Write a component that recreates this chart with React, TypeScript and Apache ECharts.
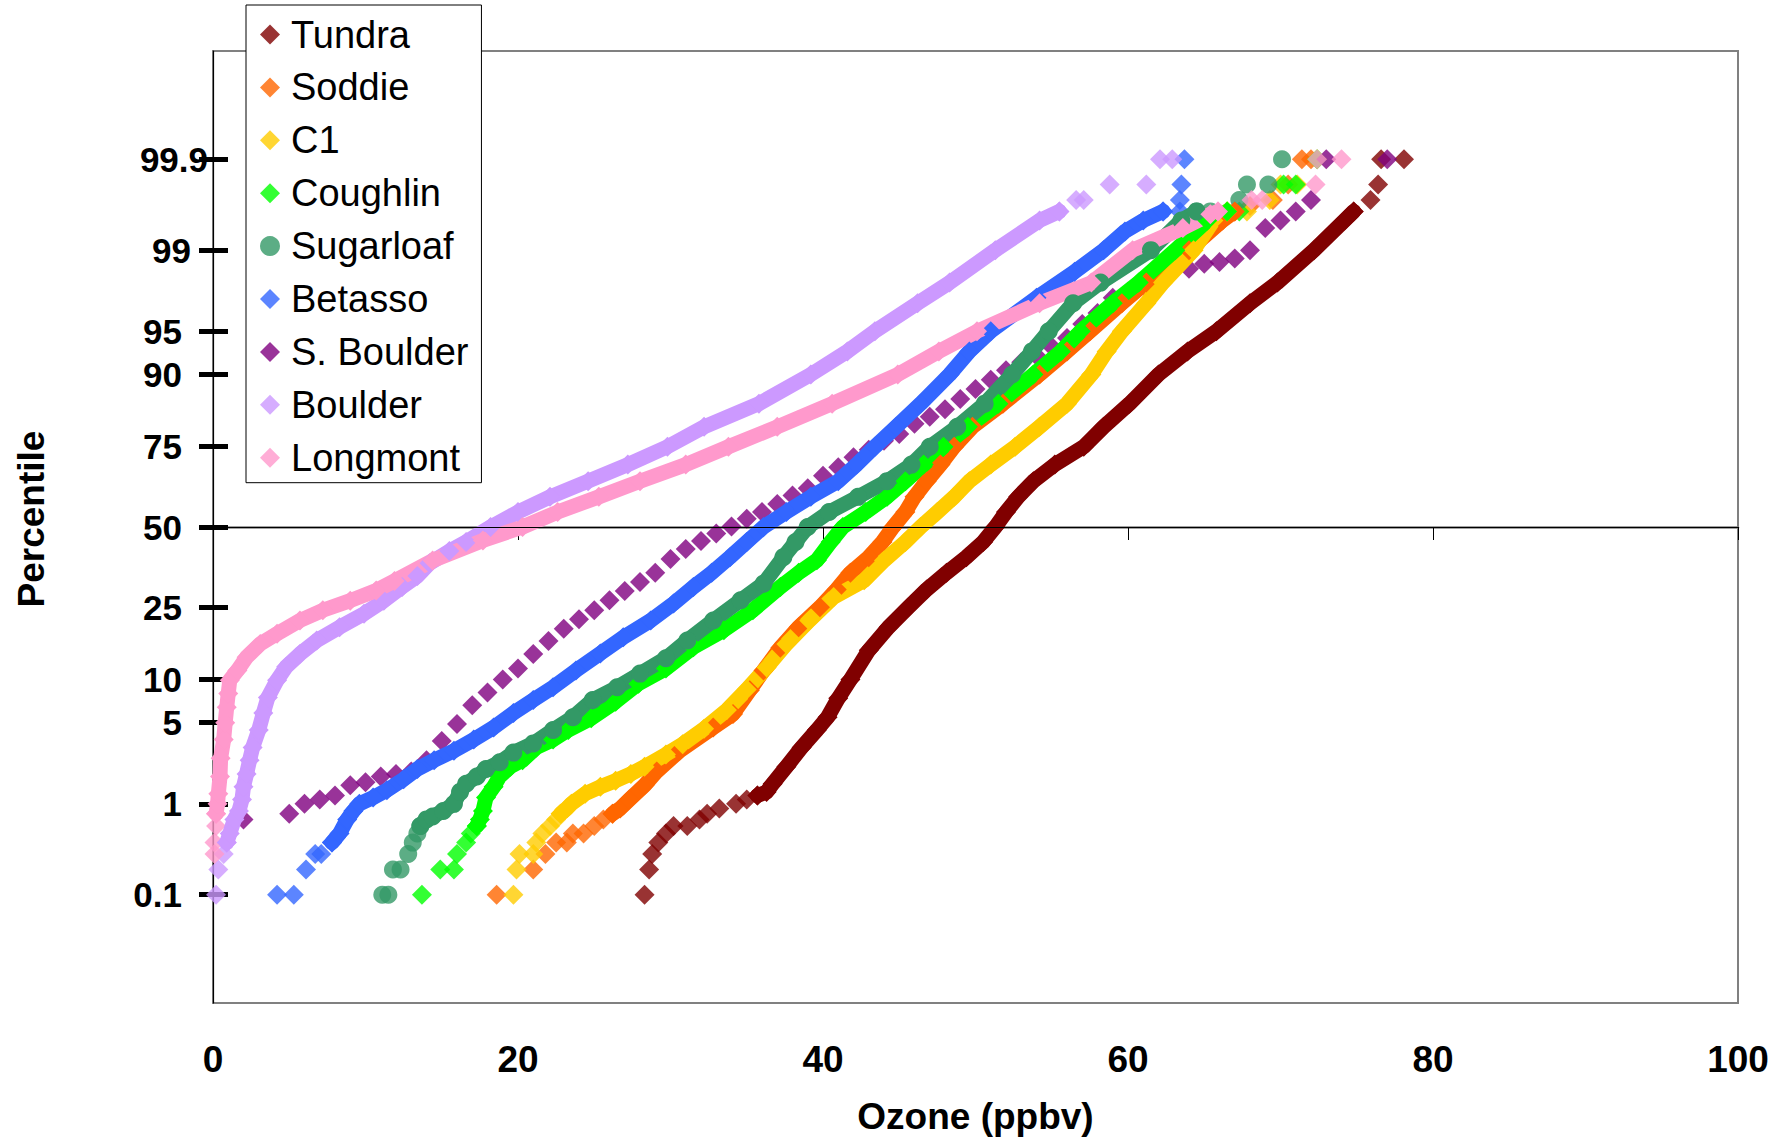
import React, { useEffect, useRef } from 'react';
import * as echarts from 'echarts';

const FONT = "'Liberation Sans', Arial, Helvetica, sans-serif";

type Pt = [number, number]; // [ozone ppbv, percentile]

// ---------- data: [ozone, percentile] ----------
const TUNDRA_TAIL: Pt[] = [[28.3,0.1],[28.6,0.2],[28.8,0.3],[29.2,0.4],[29.7,0.5],[30.2,0.6],[31.1,0.6],[31.9,0.7],[32.4,0.8],[33.2,0.9],[34.3,1.0],[35.0,1.1],[35.7,1.2],[74.8,99.6],[75.9,99.7],[76.4,99.8],[76.6,99.9],[78.1,99.9]];
const TUNDRA_BAND: Pt[] = [[35.7,1.2],[36.3,1.3],[36.7,1.55],[37.6,2.2],[38.6,3.2],[39.6,4.4],[40.3,5.5],[41.0,7.5],[41.8,10],[43.0,15],[44.3,20],[45.6,25],[46.8,30],[48.1,35],[49.4,40],[50.5,45],[51.3,50],[52.0,55],[52.8,60],[53.8,65],[55.2,70],[57.1,75],[58.4,80],[60.1,85],[62.0,90],[63.9,93],[65.8,95],[68.0,97],[69.8,98],[72.2,99],[74.2,99.5],[74.8,99.6]];

const SODDIE_TAIL: Pt[] = [[18.6,0.1],[21.0,0.2],[21.8,0.3],[22.5,0.4],[23.2,0.4],[23.6,0.5],[24.3,0.5],[25.0,0.6],[25.6,0.7],[26.2,0.8],[67.0,99.6],[68.0,99.65],[69.5,99.7],[70.5,99.8],[71.4,99.9],[72.0,99.9]];
const SODDIE_BAND: Pt[] = [[26.2,0.8],[26.7,0.9],[27.3,1.1],[28.3,1.5],[29.1,2],[30.6,3],[32.8,4.6],[34.1,5.8],[35.2,8.5],[36.1,11.4],[37.2,15.5],[38.4,20],[39.8,25],[40.9,30],[41.8,35],[43.0,40],[43.9,45],[44.6,50],[45.4,55],[46.0,60],[46.8,65],[47.7,70],[48.6,75],[49.8,80],[51.8,85],[54.2,90],[56.0,93],[57.5,95],[59.6,97],[61.2,98],[64.0,99],[66.2,99.5],[67.0,99.6]];

const C1_TAIL: Pt[] = [[19.7,0.1],[19.9,0.2],[20.1,0.3],[21.0,0.3],[21.2,0.4],[21.6,0.5],[22.1,0.6],[22.5,0.7],[22.8,0.8],[66.5,99.6],[67.8,99.6],[69.3,99.7],[70.0,99.8],[71.1,99.8],[72.4,99.9]];
const C1_BAND: Pt[] = [[22.8,0.8],[23.2,0.9],[23.5,1.0],[24.4,1.25],[25.4,1.45],[26.4,1.65],[27.4,1.9],[28.3,2.2],[29.7,2.8],[30.8,3.4],[32.2,4.5],[33.7,6.2],[35.0,8.6],[36.3,11.9],[37.6,16.3],[39.1,21.6],[40.7,27.8],[42.7,32.7],[44.0,38.9],[45.4,45],[46.4,50],[47.5,55],[48.6,60],[49.6,65],[51.0,70],[52.6,75],[54.2,80],[56.0,85],[57.6,90],[58.6,93],[59.6,95],[61.2,97],[62.3,98],[64.3,99],[65.6,99.5],[66.5,99.6]];

const COUGHLIN_TAIL: Pt[] = [[13.7,0.1],[14.9,0.2],[15.8,0.2],[16.0,0.3],[16.6,0.4],[16.9,0.5],[17.3,0.6],[66.5,99.6],[67.3,99.6],[70.2,99.8],[71.0,99.8],[72.4,99.9]];
const COUGHLIN_BAND: Pt[] = [[17.3,0.6],[17.5,0.7],[17.7,0.85],[17.9,1.15],[18.4,1.45],[18.8,1.8],[19.5,2.2],[20.3,2.5],[21.2,3.2],[22.3,3.7],[23.3,4.4],[24.8,5.4],[26.4,7.1],[27.9,9.4],[29.7,11.7],[31.5,15.6],[33.5,19.3],[35.4,24.2],[37.2,30.7],[38.4,35],[39.6,39],[40.5,45],[41.3,50],[42.8,55],[44.2,60],[45.4,65],[46.6,70],[47.9,75],[49.5,80],[51.5,85],[53.8,90],[55.6,93],[56.9,95],[59.0,97],[60.7,98],[63.1,99],[65.2,99.5],[66.5,99.6]];

const SUGARLOAF_TAIL: Pt[] = [[11.1,0.1],[11.5,0.1],[11.8,0.2],[12.3,0.2],[12.8,0.3],[13.1,0.4],[13.4,0.5],[13.6,0.6],[64.5,99.6],[65.4,99.6],[67.3,99.7],[67.8,99.8],[69.2,99.8],[70.1,99.9]];
const SUGARLOAF_BAND: Pt[] = [[13.6,0.6],[14.0,0.7],[14.4,0.75],[15.1,0.85],[15.8,1.0],[16.2,1.3],[16.6,1.55],[17.3,1.8],[17.9,2.1],[18.8,2.4],[19.7,2.9],[21.0,3.45],[22.3,4.4],[23.6,5.5],[24.9,7.3],[26.5,8.9],[28.0,10.9],[29.7,13.5],[31.1,17],[32.8,21.6],[34.6,26.9],[36.1,31.7],[37.4,40],[38.2,45],[39.0,50],[40.4,55],[42.3,60],[44.2,65],[45.8,70],[47.0,75],[48.8,80],[50.6,85],[52.4,90],[53.7,93],[54.8,95],[56.4,97],[58.2,98],[61.5,99],[63.5,99.5],[64.5,99.6]];

const BETASSO_TAIL: Pt[] = [[4.2,0.1],[5.3,0.1],[6.1,0.2],[6.7,0.3],[7.1,0.3],[7.8,0.4],[62.3,99.6],[63.4,99.6],[63.4,99.7],[63.5,99.8],[63.7,99.9]];
const BETASSO_BAND: Pt[] = [[7.8,0.4],[8.3,0.5],[8.8,0.7],[9.2,0.85],[9.6,1.0],[10.5,1.15],[11.4,1.35],[12.5,1.7],[13.4,2.1],[14.5,2.5],[15.8,3.0],[17.1,3.7],[18.4,4.6],[19.7,5.9],[21.0,7.3],[22.3,8.9],[23.8,11.4],[25.4,14.4],[26.9,17.7],[28.7,21.6],[30.2,26],[31.5,30.7],[32.7,35],[33.9,40],[35.0,45],[36.1,50],[37.6,55],[39.2,60],[41.0,65],[42.2,70],[43.4,75],[44.8,80],[46.4,85],[48.3,90],[49.6,93],[51.0,95],[54.0,97.3],[56.5,98.4],[58.4,99],[59.8,99.35],[61.0,99.5],[62.3,99.6]];

const S_BOULDER: Pt[] = [[2,0.7],[5,0.8],[6,1.0],[7,1.1],[8,1.2],[9,1.5],[10,1.6],[11,1.8],[12,1.9],[13,2.0],[14,2.5],[15,3.6],[16,4.9],[17,6.7],[18,8.2],[19,10.0],[20,11.7],[21,14.3],[22,16.9],[23,19.6],[24,21.9],[25,24.2],[26,26.9],[27,29.5],[28,32.2],[29,35.0],[30,39.4],[31,42.7],[32,45.3],[33,47.8],[34,50.2],[35,52.8],[36,55.0],[37,57.7],[38,60.4],[39,62.8],[40,66.7],[41,69.2],[42,72.1],[43,74.2],[44,76.6],[45,78.3],[46,80.7],[47,82.3],[48,83.9],[49,85.9],[50,87.7],[51,89.2],[52,90.6],[53,91.7],[54,92.5],[55,93.5],[56,94.4],[57,95.6],[58,96.4],[59,97.3],[60,97.6],[61,97.9],[62,98.05],[64,98.5],[65,98.65],[66,98.7],[67,98.8],[68,99.0],[69,99.4],[70,99.5],[71,99.6],[72,99.7],[73,99.9],[77,99.9]];

const BOULDER_TAIL: Pt[] = [[0.2,0.1],[0.35,0.2],[0.7,0.3],[0.9,0.4],[55.5,99.6],[56.6,99.7],[57.1,99.7],[58.8,99.8],[61.2,99.8],[62.1,99.9],[62.9,99.9]];
const BOULDER_BAND: Pt[] = [[0.9,0.4],[1.1,0.5],[1.4,0.7],[1.7,0.85],[1.9,1.1],[2.0,1.45],[2.2,1.9],[2.4,2.5],[2.6,3.2],[3.0,4.4],[3.3,5.9],[3.6,7.6],[4.2,9.9],[4.8,12],[5.7,14.3],[6.8,17],[8.3,20],[9.9,23.3],[11.2,26.8],[12.4,30.7],[13.4,34],[14.2,38],[15.5,42],[16.6,45],[18.2,50],[20.0,55],[22.1,60],[24.6,65],[27.2,70],[29.8,75],[32.2,80],[35.8,85],[39.2,90],[41.6,93],[43.4,95],[46.2,97],[48.3,98],[51.3,99],[54.2,99.5],[55.5,99.6]];

const LONGMONT_TAIL: Pt[] = [[0.1,0.3],[0.1,0.4],[0.2,0.6],[0.2,0.8],[65.9,99.6],[68.1,99.7],[68.8,99.7],[72.3,99.8],[72.4,99.9],[74.0,99.9]];
const LONGMONT_BAND: Pt[] = [[0.2,0.8],[0.3,1.0],[0.35,1.25],[0.46,1.8],[0.5,2.6],[0.7,3.7],[0.8,5.0],[0.9,6.5],[1.0,8.1],[1.1,9.9],[1.6,11.4],[2.2,13.7],[3.1,16.3],[4.2,18.5],[5.7,21.6],[7.2,24.2],[9.0,26.8],[10.7,29.7],[11.9,32.5],[14.4,38.9],[17.7,45.5],[20.3,50],[22.6,55],[25.3,60],[28.0,65],[31.0,70],[33.8,75],[37.0,80],[40.6,85],[44.9,90],[47.6,93],[50.1,95],[54.2,97],[57.6,98],[60.3,99],[63.6,99.4],[65.4,99.57],[65.9,99.6]];

// ---------- axes ----------
const Y_TICK_PCTS = [0.1, 1, 5, 10, 25, 50, 75, 90, 95, 99, 99.9];
const Y_TICK_LABELS = ['0.1', '1', '5', '10', '25', '50', '75', '90', '95', '99', '99.9'];
const X_MIN = 0;
const X_MAX = 100;
const X_STEP = 20;
const Z_MIN = -4;
const Z_MAX = 4;
const MEDIAN_PCT = 50;

// inverse standard normal CDF (probability-scale axis transform)
function probit(p: number): number {
  const a = [-3.969683028665376e1, 2.209460984245205e2, -2.759285104469687e2, 1.38357751867269e2, -3.066479806614716e1, 2.506628277459239];
  const b = [-5.447609879822406e1, 1.615858368580409e2, -1.556989798598866e2, 6.680131188771972e1, -1.328068155288572e1];
  const c = [-7.784894002430293e-3, -3.223964580411365e-1, -2.400758277161838, -2.549732539343734, 4.374664141464968, 2.938163982698783];
  const d = [7.784695709041462e-3, 3.224671290700398e-1, 2.445134137142996, 3.754408661907416];
  const pl = 0.02425;
  if (p < pl) {
    const q = Math.sqrt(-2 * Math.log(p));
    return (((((c[0] * q + c[1]) * q + c[2]) * q + c[3]) * q + c[4]) * q + c[5]) / ((((d[0] * q + d[1]) * q + d[2]) * q + d[3]) * q + 1);
  }
  if (p <= 1 - pl) {
    const q = p - 0.5;
    const r = q * q;
    return ((((((a[0] * r + a[1]) * r + a[2]) * r + a[3]) * r + a[4]) * r + a[5]) * q) / (((((b[0] * r + b[1]) * r + b[2]) * r + b[3]) * r + b[4]) * r + 1);
  }
  const q = Math.sqrt(-2 * Math.log(1 - p));
  return -(((((c[0] * q + c[1]) * q + c[2]) * q + c[3]) * q + c[4]) * q + c[5]) / ((((d[0] * q + d[1]) * q + d[2]) * q + d[3]) * q + 1);
}

const toXY = (d: Pt[]) => d.map(([o, p]) => [o, probit(p / 100)]);

const SITES = [
  { name: 'Tundra', color: '#800000', symbol: 'diamond', band: TUNDRA_BAND, tail: TUNDRA_TAIL },
  { name: 'Soddie', color: '#FF6600', symbol: 'diamond', band: SODDIE_BAND, tail: SODDIE_TAIL },
  { name: 'C1', color: '#FFCC00', symbol: 'diamond', band: C1_BAND, tail: C1_TAIL },
  { name: 'Coughlin', color: '#00FF00', symbol: 'diamond', band: COUGHLIN_BAND, tail: COUGHLIN_TAIL },
  { name: 'Sugarloaf', color: '#339966', symbol: 'circle', band: SUGARLOAF_BAND, tail: SUGARLOAF_TAIL },
  { name: 'Betasso', color: '#3366FF', symbol: 'diamond', band: BETASSO_BAND, tail: BETASSO_TAIL },
  { name: 'S. Boulder', color: '#800080', symbol: 'diamond', band: [] as Pt[], tail: S_BOULDER },
  { name: 'Boulder', color: '#CC99FF', symbol: 'diamond', band: BOULDER_BAND, tail: BOULDER_TAIL },
  { name: 'Longmont', color: '#FF99CC', symbol: 'diamond', band: LONGMONT_BAND, tail: LONGMONT_TAIL },
];

export default function App() {
  const ref = useRef<HTMLDivElement>(null);

  useEffect(() => {
    if (!ref.current) return;
    const chart = echarts.init(ref.current, null, { renderer: 'svg' });
    const yTickZ = Y_TICK_PCTS.map((p) => probit(p / 100));
    const base = { fontSize: 35, fontWeight: 'bold', fontFamily: FONT, color: '#000' };

    const series: any[] = [];
    SITES.forEach((s, i) => {
      const size = s.symbol === 'circle' ? 18 : 20;
      const scatter: any = {
        type: 'scatter',
        name: s.name,
        data: toXY(s.tail),
        symbol: s.symbol,
        symbolSize: size,
        itemStyle: { color: s.color },
        silent: true,
        emphasis: { disabled: true },
      };
      if (i === 0) {
        scatter.markLine = {
          silent: true,
          symbol: ['none', 'none'],
          label: { show: false },
          lineStyle: { color: '#000', width: 1, type: 'solid' },
          data: [{ yAxis: probit(MEDIAN_PCT / 100) }],
        };
      }
      series.push(scatter);
      if (s.band.length) {
        series.push({
          type: 'line',
          name: s.name,
          data: toXY(s.band),
          symbol: s.symbol,
          symbolSize: size,
          showSymbol: true,
          itemStyle: { color: s.color },
          lineStyle: { color: s.color, width: 15, cap: 'round', join: 'round' },
          silent: true,
          emphasis: { disabled: true },
        });
      }
    });

    chart.setOption({
      animation: false,
      backgroundColor: '#fff',
      grid: {
        left: 213,
        top: 51,
        right: 49,
        bottom: 142,
        show: true,
        borderColor: '#808080',
        borderWidth: 2,
        backgroundColor: 'transparent',
        outerBoundsMode: 'none',
      },
      legend: {
        orient: 'vertical',
        left: 246,
        top: 5,
        padding: [10.5, 13, 6, 14],
        itemGap: 14.9,
        itemWidth: 20,
        itemHeight: 20,
        backgroundColor: '#fff',
        borderColor: '#000',
        borderWidth: 1,
        selectedMode: false,
        textStyle: { fontSize: 38, lineHeight: 38, fontFamily: FONT, color: '#000', padding: [0, 0, 0, 6] },
        data: SITES.map((s) => ({ name: s.name, icon: s.symbol === 'circle' ? 'circle' : 'diamond' })),
      },
      xAxis: {
        type: 'value',
        min: X_MIN,
        max: X_MAX,
        interval: X_STEP,
        axisLine: { show: true, lineStyle: { color: '#808080', width: 2.5 } },
        axisTick: { show: true, inside: false, length: 13, lineStyle: { color: '#000', width: 1 } },
        axisLabel: { margin: 38, fontSize: 37, fontWeight: 'bold', fontFamily: FONT, color: '#000' },
        splitLine: { show: false },
        name: 'Ozone (ppbv)',
        nameLocation: 'middle',
        nameGap: 95,
        nameTextStyle: { fontSize: 37, fontWeight: 'bold', fontFamily: FONT, color: '#000' },
      },
      yAxis: [
        {
          type: 'value',
          min: Z_MIN,
          max: Z_MAX,
          position: 'left',
          axisLine: { show: true, onZero: false, lineStyle: { color: '#000', width: 1.2 } },
          axisTick: { show: true, inside: false, length: 14, customValues: yTickZ, lineStyle: { color: '#000', width: 5 } },
          axisLabel: {
            show: true,
            customValues: yTickZ,
            margin: 5,
            formatter: (v: number) => {
              const i = yTickZ.findIndex((z) => Math.abs(z - v) < 1e-4);
              if (i < 0) return '';
              const t = Y_TICK_LABELS[i];
              const key = t === '99.9' ? 't' : t === '99' ? 'm' : 'n';
              return `{${key}|${t}}`;
            },
            rich: {
              n: { ...base, padding: [0, 26, 0, 0] },
              m: { ...base, padding: [0, 17, 0, 0] },
              t: { ...base },
            },
          },
          splitLine: { show: false },
          name: 'Percentile',
          nameLocation: 'middle',
          nameRotate: 90,
          nameGap: 163,
          nameTextStyle: { fontSize: 37, fontWeight: 'bold', fontFamily: FONT, color: '#000', padding: [0, 0, 0, 16] },
        },
        {
          type: 'value',
          min: Z_MIN,
          max: Z_MAX,
          position: 'left',
          axisLine: { show: false },
          axisTick: { show: true, inside: true, length: 15, customValues: yTickZ, lineStyle: { color: '#000', width: 5 } },
          axisLabel: { show: false },
          splitLine: { show: false },
        },
      ],
      series,
    });

    return () => {
      chart.dispose();
    };
  }, []);

  return (
    <div
      ref={ref}
      style={{ position: 'absolute', left: 0, top: 0, width: 1787, height: 1145, background: '#fff' }}
    />
  );
}
